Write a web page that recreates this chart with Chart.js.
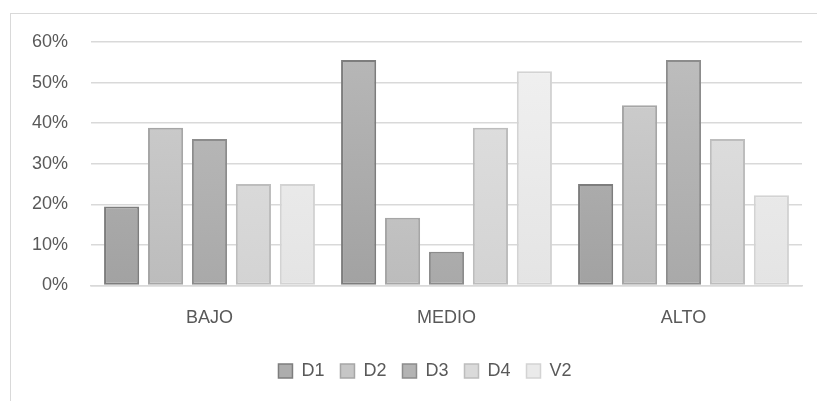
<!DOCTYPE html>
<html>
<head>
<meta charset="utf-8">
<script src="https://cdn.jsdelivr.net/npm/chart.js@4"></script>
<style>
  html, body { margin: 0; padding: 0; background: #ffffff; }
  #wrap { position: relative; width: 817px; height: 401px; overflow: hidden; }
  #frame { position: absolute; left: 10px; top: 13px; width: 820px; height: 400px;
           border-top: 1.5px solid #d9d9d9; border-left: 1.5px solid #d9d9d9; box-sizing: border-box; }
  canvas { position: absolute; left: 0; top: 0; }
</style>
</head>
<body>
<div id="wrap">
  <div id="frame"></div>
  <canvas id="c" width="817" height="401"></canvas>
</div>
<script>
const categories = ["BAJO", "MEDIO", "ALTO"];
const seriesNames = ["D1", "D2", "D3", "D4", "V2"];
const D1 = [19.44, 55.56, 25.00];
const D2 = [38.89, 16.67, 44.44];
const D3 = [36.11, 8.33, 55.56];
const D4 = [25.00, 38.89, 36.11];
const V2 = [25.00, 52.78, 22.22];
const yTicks = [0, 10, 20, 30, 40, 50, 60];

const seriesValues = [D1, D2, D3, D4, V2];
const fills = [
  ["#b8b8b8", "#a2a2a2", "#7d7d7d", "#adadad"],
  ["#d0d0d0", "#bcbcbc", "#a6a6a6", "#c6c6c6"],
  ["#bebebe", "#a9a9a9", "#8c8c8c", "#b3b3b3"],
  ["#e2e2e2", "#d3d3d3", "#bdbdbd", "#dadada"],
  ["#f1f1f1", "#e4e4e4", "#d3d3d3", "#eaeaea"]
];

function gradFor(i) {
  return function(ctx) {
    const chart = ctx.chart;
    const a = chart.chartArea;
    if (!a) return fills[i][3];
    const g = chart.ctx.createLinearGradient(0, a.top, 0, a.bottom);
    g.addColorStop(0, fills[i][0]);
    g.addColorStop(1, fills[i][1]);
    return g;
  };
}

const datasets = seriesNames.map((name, i) => ({
  label: name,
  data: seriesValues[i],
  backgroundColor: gradFor(i),
  borderColor: fills[i][2],
  borderWidth: 2,
  borderSkipped: false,
  categoryPercentage: 0.927,
  barPercentage: 0.8
}));

const FONT = "'Liberation Sans', Arial, sans-serif";

const legendShift = {
  id: 'legendShift',
  afterLayout(chart) {
    if (chart.legend) { chart.legend.left += 24; chart.legend.right += 24; }
  }
};

new Chart(document.getElementById('c'), {
  type: 'bar',
  data: { labels: categories, datasets },
  plugins: [legendShift],
  options: {
    responsive: false,
    animation: false,
    layout: { padding: { top: 42, right: 15, left: 0, bottom: 11 } },
    scales: {
      y: {
        min: 0, max: 60,
        afterFit: s => { s.width = 91; },
        afterBuildTicks: s => { s.ticks = yTicks.map(v => ({ value: v })); },
        border: { display: false },
        grid: { color: '#d9d9d9', lineWidth: 1.5, drawTicks: false },
        ticks: {
          padding: 23,
          color: '#595959',
          font: { family: FONT, size: 18 },
          callback: v => v + '%'
        }
      },
      x: {
        afterFit: s => { s.height = 60.5; },
        border: { display: true, color: '#d9d9d9', width: 1.5 },
        grid: { display: false, drawTicks: false },
        ticks: {
          padding: 22,
          color: '#595959',
          font: { family: FONT, size: 18 }
        }
      }
    },
    plugins: {
      tooltip: { enabled: false },
      legend: {
        position: 'bottom',
        labels: {
          boxWidth: 14, boxHeight: 14,
          padding: 16,
          color: '#595959',
          font: { family: FONT, size: 18 },
          generateLabels: chart => chart.data.datasets.map((d, i) => ({
            text: d.label,
            fillStyle: fills[i][3],
            strokeStyle: fills[i][2],
            lineWidth: 1.5,
            datasetIndex: i,
            fontColor: '#595959'
          }))
        }
      }
    }
  }
});
</script>
</body>
</html>
